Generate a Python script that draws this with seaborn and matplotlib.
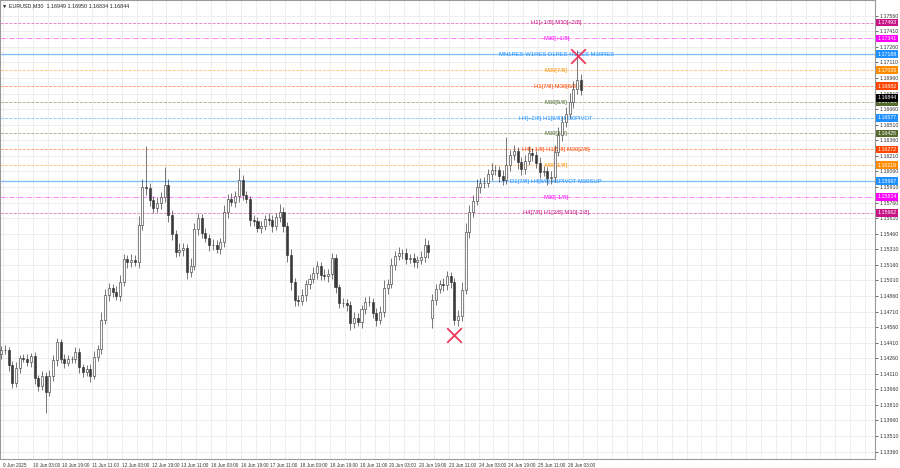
import matplotlib
matplotlib.use("Agg")
import matplotlib.pyplot as plt
import seaborn as sns
import numpy as np
import pandas as pd

# ---- data (EURUSD M30, shown here as 2-hour candles) ----
closes = [
    1.14339, 1.14339, 1.14195, 1.14021, 1.14166, 1.14262, 1.14252, 1.14224, 1.14281, 1.14069,
    1.13992, 1.14089, 1.13935, 1.14089, 1.14243, 1.14416, 1.14252, 1.14214, 1.14252, 1.14252,
    1.14320, 1.14175, 1.14127, 1.14156, 1.14089, 1.14272, 1.14349, 1.14628, 1.14869, 1.14936,
    1.14898, 1.14859, 1.14994, 1.15216, 1.15187, 1.15206, 1.15187, 1.15543, 1.15909, 1.15900,
    1.15784, 1.15707, 1.15755, 1.15813, 1.15929, 1.15640, 1.15457, 1.15283, 1.15303, 1.15322,
    1.15091, 1.15148, 1.15505, 1.15611, 1.15466, 1.15418, 1.15351, 1.15351, 1.15312, 1.15380,
    1.15669, 1.15794, 1.15765, 1.15823, 1.15977, 1.15832, 1.15794, 1.15592, 1.15582, 1.15514,
    1.15534, 1.15601, 1.15592, 1.15534, 1.15620, 1.15669, 1.15534, 1.15254, 1.14994, 1.14821,
    1.14811, 1.14869, 1.14975, 1.15023, 1.15081, 1.15148, 1.15062, 1.15052, 1.15071, 1.15225,
    1.14946, 1.14792, 1.14792, 1.14773, 1.14599, 1.14647, 1.14609, 1.14734, 1.14802, 1.14802,
    1.14696, 1.14628, 1.14705, 1.14936, 1.14975, 1.15158, 1.15245, 1.15274, 1.15274, 1.15216,
    1.15225, 1.15187, 1.15206, 1.15235, 1.15351, 1.15283, 1.14821, 1.14927, 1.14975, 1.14965,
    1.15052, 1.14994, 1.14628, 1.14667, 1.14917, 1.15476, 1.15669, 1.15775, 1.15909, 1.15948,
    1.15948, 1.16035, 1.16073, 1.16073, 1.16015, 1.15977, 1.16121, 1.16218, 1.16256, 1.16150,
    1.16083, 1.16160, 1.16237, 1.16218, 1.16141, 1.16054, 1.16064, 1.15996, 1.16006, 1.16247,
    1.16410, 1.16536, 1.16613, 1.16728, 1.16854, 1.16940, 1.16844,
]
first_open = 1.14300
gap_opens = {116: 1.14650}  # Monday 23 Jun gap

# upper / lower wicks in pips
wick_up = [
    4, 5, 3, 4, 6, 3, 4, 5, 3, 4, 3, 5, 4, 6, 5, 4, 3, 5, 4, 3,
    5, 4, 3, 4, 5, 6, 4, 8, 6, 5, 4, 6, 7, 5, 4, 6, 5, 9, 8, 40,
    5, 4, 6, 5, 17, 6, 5, 4, 7, 5, 4, 8, 6, 5, 4, 5, 4, 6, 5, 4,
    7, 5, 6, 5, 12, 5, 4, 3, 5, 4, 5, 4, 6, 5, 4, 8, 5, 4, 6, 4,
    5, 6, 4, 5, 6, 5, 4, 6, 5, 5, 4, 3, 5, 4, 4, 6, 5, 4, 5, 6,
    4, 5, 6, 8, 5, 7, 5, 6, 4, 5, 4, 5, 4, 6, 7, 5, 6, 5, 4, 6,
    5, 4, 4, 6, 8, 9, 7, 6, 8, 5, 6, 5, 7, 5, 4, 6, 27, 5, 6, 4,
    5, 6, 7, 5, 4, 6, 5, 4, 6, 7, 8, 6, 7, 9, 8, 29, 6,
]
wick_dn = [
    5, 4, 6, 5, 4, 5, 3, 4, 5, 6, 5, 4, 20, 4, 5, 6, 4, 5, 3, 4,
    4, 6, 5, 4, 6, 3, 4, 5, 4, 6, 5, 4, 5, 4, 6, 5, 4, 6, 5, 7,
    6, 5, 4, 6, 5, 7, 6, 5, 4, 6, 7, 5, 4, 6, 5, 4, 6, 5, 4, 5,
    5, 6, 4, 5, 6, 5, 4, 6, 5, 4, 5, 4, 5, 6, 4, 5, 6, 7, 8, 6,
    5, 4, 6, 5, 4, 6, 5, 4, 6, 5, 6, 5, 4, 6, 7, 5, 4, 6, 5, 4,
    5, 6, 4, 5, 6, 4, 5, 4, 6, 5, 4, 5, 6, 4, 5, 6, 10, 5, 4, 6,
    5, 6, 5, 6, 5, 4, 6, 5, 4, 6, 5, 4, 6, 5, 6, 5, 4, 6, 5, 7,
    6, 5, 4, 6, 5, 6, 4, 7, 6, 5, 4, 6, 5, 4, 6, 5, 5,
]

level_prices = [1.17493, 1.17341, 1.17188, 1.17035, 1.16882, 1.16730, 1.16577,
                1.16425, 1.16272, 1.16119, 1.15967, 1.15814, 1.15662]
level_labels = ["H1[+1/8] M30[+2/8]", "M30[+1/8]", "MN1RES W1RES D1RES H1RES M30RES",
                "M30[7/8]", "H1[7/8] M30[6/8]", "M30[5/8]", "H4[+2/8] H1[6/8] M30PIVOT",
                "M30[3/8]", "H4[+1/8] H1[5/8] M30[2/8]", "M30[1/8]",
                "D1[7/8] H4[8/8] H1PIVOT M30SUP", "M30[-1/8]", "H4[7/8] H1[3/8] M30[-2/8]"]
level_colors = ["#C71585", "#FF00FF", "#1E90FF", "#FF8C00", "#FF4500", "#556B2F", "#1E90FF",
                "#556B2F", "#FF4500", "#FF8C00", "#1E90FF", "#FF00FF", "#C71585"]
level_styles = ["--", "-.", "-", "--", "--", "--", "--", "--", "--", "--", "-", "-.", "--"]

current_price = 1.16844
title_text = "EURUSD,M30  1.16949 1.16950 1.16834 1.16844"

time_labels = ["9 Jun 2025", "10 Jun 03:00", "10 Jun 19:00", "11 Jun 11:00", "12 Jun 03:00",
               "12 Jun 19:00", "13 Jun 11:00", "16 Jun 03:00", "16 Jun 19:00", "17 Jun 11:00",
               "18 Jun 03:00", "18 Jun 19:00", "19 Jun 11:00", "20 Jun 03:00", "20 Jun 19:00",
               "23 Jun 11:00", "24 Jun 03:00", "24 Jun 19:00", "25 Jun 11:00", "26 Jun 03:00"]
time_label_pos = [0.5] + [8.5 + 8 * i for i in range(19)]

# swing markers (candle index, price)
swing_x = [155.3, 121.9]
swing_y = [1.17172, 1.14484]

# ---- build OHLC table ----
df = pd.DataFrame({"close": closes})
df["open"] = [first_open] + closes[:-1]
for k, v in gap_opens.items():
    df.loc[k, "open"] = v
df["high"] = df[["open", "close"]].max(axis=1) + np.array(wick_up) * 0.0001
df["low"] = df[["open", "close"]].min(axis=1) - np.array(wick_dn) * 0.0001
df["idx"] = np.arange(len(df))

sns.set_theme(style="white")
plt.rcParams["font.family"] = ["Liberation Sans", "DejaVu Sans"]

fig = plt.figure(figsize=(9, 4.68), dpi=100)
ax = fig.add_axes([0.0, 9 / 468, 875 / 900, 459 / 468])
ax.set_xlim(-0.3, 235.2)
ax.set_ylim(1.13289, 1.17711)

# grid
price_ticks = np.round(np.arange(1.13360, 1.17561, 0.0015), 5)
for p in price_ticks:
    ax.axhline(p, color="#ebebeb", lw=0.6, zorder=0)
for gx in np.arange(0.5, 236, 4):
    ax.axvline(gx, color="#ebebeb", lw=0.6, zorder=0)

# level lines and labels
for p, lab, col, ls in zip(level_prices, level_labels, level_colors, level_styles):
    lw = 1.0 if ls == "-" else 0.6
    ax.axhline(p, color=col, lw=lw, ls=ls, alpha=0.55, zorder=1)
    ax.text(149.4, p - 0.00003, lab, color=col, fontsize=4.2, ha="center", va="center", zorder=2)

# candles
up = df["close"] >= df["open"]
ax.vlines(df["idx"], df["low"], df["high"], color="#2a2a2a", lw=0.45, zorder=3)
body_h = (df["close"] - df["open"]).abs().clip(lower=0.00003)
body_b = df[["open", "close"]].min(axis=1)
ax.bar(df["idx"][up], body_h[up], bottom=body_b[up], width=0.55,
       color="white", edgecolor="#2a2a2a", linewidth=0.4, zorder=3)
ax.bar(df["idx"][~up], body_h[~up], bottom=body_b[~up], width=0.55,
       color="#3a3a3a", edgecolor="#2a2a2a", linewidth=0.4, zorder=3)

# swing crosses
sns.scatterplot(x=swing_x, y=swing_y, marker="x", s=110, color="#EE3A5E",
                linewidth=1.3, ax=ax, zorder=5, legend=False)

# right price axis
ax.yaxis.tick_right()
ax.set_yticks(price_ticks)
ax.set_yticklabels([f"{p:.5f}" for p in price_ticks])
ax.tick_params(axis="y", labelsize=3.8, length=2, width=0.5, pad=1.5, colors="#333333")
ax.set_xticks(time_label_pos)
ax.set_xticklabels(time_labels, ha="left")
ax.tick_params(axis="x", labelsize=3.4, length=2, width=0.5, pad=1, colors="#333333")
ax.set_xlabel("")
ax.set_ylabel("")

for side in ["left", "right", "bottom", "top"]:
    ax.spines[side].set_color("#9a9a9a")
    ax.spines[side].set_linewidth(0.8)

ytr = ax.get_yaxis_transform()
for p, col in zip(level_prices, level_colors):
    ax.text(1.003, p, f"{p:.5f}", transform=ytr, ha="left", va="center", fontsize=3.8,
            color="white", bbox=dict(boxstyle="square,pad=0.25", fc=col, ec="none"),
            clip_on=False, zorder=6)
ax.text(1.003, current_price - 0.00075, f"{current_price:.5f}", transform=ytr, ha="left",
        va="center", fontsize=3.8, color="white",
        bbox=dict(boxstyle="square,pad=0.25", fc="black", ec="none"), clip_on=False, zorder=7)

ax.text(0.002, 0.992, "\u25bc " + title_text, transform=ax.transAxes, ha="left", va="top",
        fontsize=3.9, color="#222222", zorder=8)

fig.savefig("out.png", dpi=100)
